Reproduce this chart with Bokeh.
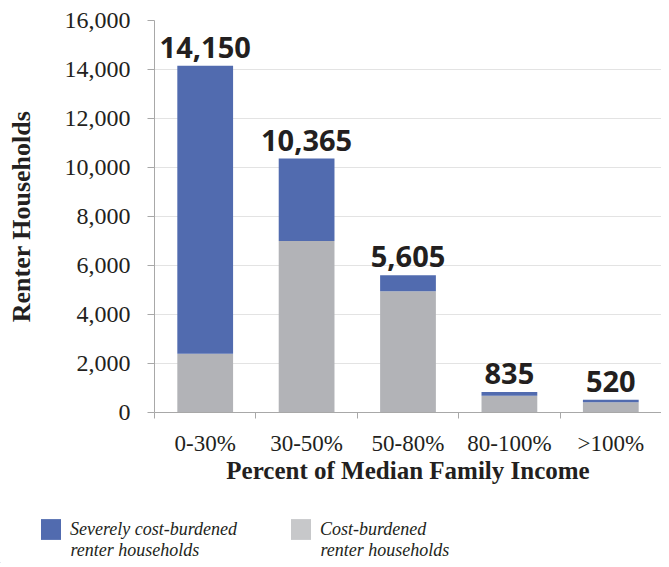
from bokeh.plotting import figure
from bokeh.models import (ColumnDataSource, Range1d, FixedTicker, Legend, LegendItem, Label)
from bokeh.layouts import column
from bokeh.embed import file_html
from bokeh.resources import INLINE
from bokeh.core.properties import value

categories = ["0-30%", "30-50%", "50-80%", "80-100%", ">100%"]
cost_burdened = [2400, 7000, 4950, 680, 420]
severely = [11750, 3365, 655, 155, 100]
totals = [14150, 10365, 5605, 835, 520]
y_ticks = [0, 2000, 4000, 6000, 8000, 10000, 12000, 14000, 16000]
legend_first = ["Severely cost-burdened", "Cost-burdened"]
legend_second = ["renter households", "renter households"]

BLUE = "#516BAF"
GRAY = "#B2B3B7"
LEG_GRAY = "#C7C8CA"
TEXT = "#231F20"
AXIS = "#A8A8A8"

xs = [i + 0.5 for i in range(len(categories))]
src = ColumnDataSource(dict(x=xs, cat=categories, cost=cost_burdened, severe=severely,
                            total=totals, lbl=[f"{t:,}" for t in totals]))

p = figure(width=661, height=495, output_backend="svg", toolbar_location=None,
           x_range=Range1d(0, 5.0), y_range=Range1d(0, 16000),
           min_border_left=154, min_border_right=0, min_border_top=20, min_border_bottom=83)
p.outline_line_color = None
p.frame_align = False

rs = p.vbar_stack(["cost", "severe"], x="x", width=0.55, source=src,
                  color=[GRAY, BLUE], line_color=None)

p.text(x="x", y="total", text="lbl", source=src, text_align="center", text_baseline="bottom",
       y_offset=-8, text_font=value("Open Sans"), text_font_style="bold",
       text_font_size="29px", text_color=TEXT)

xa = p.xaxis[0]
xa.ticker = FixedTicker(ticks=xs, minor_ticks=[0, 1, 2, 3, 4, 5])
xa.major_label_overrides = {x: c for x, c in zip(xs, categories)}
xa.major_tick_out = 0
xa.major_tick_in = 0
xa.minor_tick_out = 6
xa.minor_tick_in = 0
xa.minor_tick_line_color = AXIS
xa.axis_line_color = AXIS
xa.major_label_text_font = "Liberation Serif"
xa.major_label_text_font_size = "23px"
xa.major_label_text_color = TEXT
xa.major_label_standoff = 12
xa.axis_label = "Percent of Median Family Income"
xa.axis_label_text_font = "Liberation Serif"
xa.axis_label_text_font_style = "bold"
xa.axis_label_text_font_size = "25px"
xa.axis_label_text_color = TEXT
xa.axis_label_standoff = -2

ya = p.yaxis[0]
ya.ticker = FixedTicker(ticks=y_ticks)
ya.major_label_overrides = {t: f"{t:,}" for t in y_ticks}
ya.major_tick_out = 7
ya.major_tick_in = 0
ya.minor_tick_out = 0
ya.minor_tick_in = 0
ya.major_tick_line_color = AXIS
ya.axis_line_color = AXIS
ya.major_label_text_font = "Liberation Serif"
ya.major_label_text_font_size = "24px"
ya.major_label_text_color = TEXT
ya.major_label_standoff = 17
ya.axis_label = "Renter Households"
ya.axis_label_text_font = "Liberation Serif"
ya.axis_label_text_font_style = "bold"
ya.axis_label_text_font_size = "26px"
ya.axis_label_text_color = TEXT
ya.axis_label_standoff = 26

p.xgrid.visible = False
p.ygrid.grid_line_color = "#E3E3E3"
p.ygrid.ticker = FixedTicker(ticks=y_ticks)

# legend panel below the chart
lf = figure(width=661, height=68, output_backend="svg", toolbar_location=None,
            x_range=Range1d(0, 661), y_range=Range1d(0, 68),
            min_border_left=0, min_border_right=0, min_border_top=0, min_border_bottom=0)
lf.outline_line_color = None
lf.frame_align = False
lf.axis.visible = False
lf.grid.visible = False
# placeholder glyphs (kept off-screen) that only supply the legend swatches
d1 = lf.vbar(x=[-1000], top=[1], width=1, fill_color=BLUE, line_color=None)
d2 = lf.vbar(x=[-1000], top=[1], width=1, fill_color=LEG_GRAY, line_color=None)

FONT_KW = dict(text_font="Liberation Serif", text_font_style="italic",
               text_font_size="18px", text_color=TEXT)

for rend, first, second, x0 in [(d1, legend_first[0], legend_second[0], 38),
                                (d2, legend_first[1], legend_second[1], 288)]:
    lf.add_layout(Legend(items=[LegendItem(label=first, renderers=[rend])], location=(x0, 21),
                         border_line_color=None, background_fill_alpha=0, padding=0, margin=0,
                         glyph_width=25, glyph_height=26, label_standoff=7,
                         label_text_font="Liberation Serif", label_text_font_style="italic",
                         label_text_font_size="18px", label_text_color=TEXT), "center")
    lf.add_layout(Label(x=x0 + 32, y=14, text=second, text_baseline="middle", **FONT_KW))

open("out.html", "w").write(file_html(column(p, lf, spacing=0), INLINE))
